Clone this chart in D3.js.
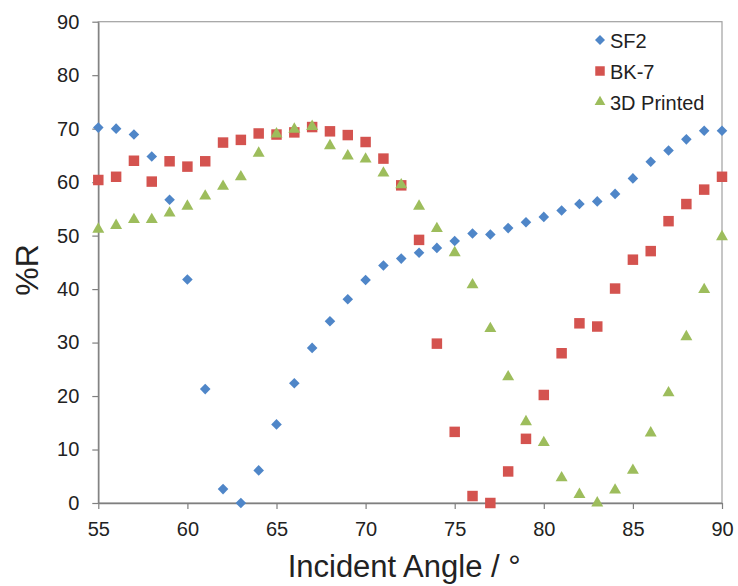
<!DOCTYPE html>
<html>
<head>
<meta charset="utf-8">
<script src="https://cdn.jsdelivr.net/npm/d3@7"></script>
<style>
  html, body { margin: 0; padding: 0; background: #fff; }
  svg { display: block; font-family: "Liberation Sans", Arial, sans-serif; }
</style>
</head>
<body>
<div id="chart"></div>
<script>
/* reflectance vs incident angle, three materials */
const angles = d3.range(55, 91);   // 55..90 in steps of 1
const sf2 = [70.2, 70.0, 68.9, 64.8, 56.7, 41.8, 21.3, 2.6, 0.0, 6.1, 14.7, 22.4, 29.0, 34.0, 38.1, 41.7, 44.4, 45.7,
             46.8, 47.7, 49.0, 50.4, 50.2, 51.4, 52.5, 53.5, 54.7, 55.9, 56.4, 57.8, 60.7, 63.8, 65.9, 68.0, 69.6, 69.6];
const bk7 = [60.4, 61.0, 64.0, 60.1, 63.9, 62.9, 63.9, 67.4, 67.9, 69.1, 68.9, 69.3, 70.3, 69.5, 68.8, 67.5, 64.4, 59.4,
             49.2, 29.8, 13.3, 1.3, 0.0, 5.9, 12.0, 20.2, 28.0, 33.6, 33.0, 40.1, 45.5, 47.1, 52.7, 55.9, 58.6, 61.0];
const printed = [51.2, 51.9, 53.0, 53.0, 54.2, 55.5, 57.4, 59.2, 61.0, 65.4, 69.0, 69.9, 70.4, 66.8, 64.9, 64.3, 61.7, 59.5,
                 55.5, 51.3, 46.8, 40.8, 32.6, 23.6, 15.2, 11.3, 4.7, 1.6, 0.0, 2.4, 6.1, 13.1, 20.6, 31.1, 39.9, 49.8];
const seriesNames = ['SF2', 'BK-7', '3D Printed'];
const xTicks = [55, 60, 65, 70, 75, 80, 85, 90];
const yTicks = [0, 10, 20, 30, 40, 50, 60, 70, 80, 90];

const W = 738, H = 586;
const m = { left: 98.3, right: 722, top: 21.7, bottom: 503 };

const svg = d3.select('#chart').append('svg').attr('width', W).attr('height', H);

const x = d3.scaleLinear().domain([55, 90]).range([m.left, m.right]);
const y = d3.scaleLinear().domain([0, 90]).range([m.bottom, m.top]);

// plot-area frame (top/right light grey)
svg.append('rect')
  .attr('x', m.left).attr('y', m.top)
  .attr('width', m.right - m.left).attr('height', m.bottom - m.top)
  .attr('fill', 'none').attr('stroke', '#a0a0a0').attr('stroke-width', 1.2);

const xAxis = svg.append('g').attr('transform', `translate(0,${m.bottom})`)
  .call(d3.axisBottom(x).tickValues(xTicks).tickSize(6).tickPadding(13).tickSizeOuter(0));
const yAxis = svg.append('g').attr('transform', `translate(${m.left},0)`)
  .call(d3.axisLeft(y).tickValues(yTicks).tickSize(6).tickPadding(13).tickSizeOuter(0));

[xAxis, yAxis].forEach(a => {
  a.select('.domain').attr('stroke', '#7f7f7f').attr('stroke-width', 1.4);
  a.selectAll('.tick line').attr('stroke', '#7f7f7f').attr('stroke-width', 1.2);
  a.selectAll('.tick text').attr('fill', '#222').style('font-size', '20px')
    .style('font-family', '"Liberation Sans", Arial, sans-serif');
});

// markers: diamond = square turned 45deg (excel style)
const colors = ['#4f86c8', '#d4534f', '#9dbd5c'];
const sym = [d3.symbolSquare, d3.symbolSquare, d3.symbolTriangle];
const rot = [45, 0, 0];
const symSize = [56, 110, 62];
const allSeries = [sf2, bk7, printed];

allSeries.forEach((vals, si) => {
  const shape = d3.symbol().type(sym[si]).size(symSize[si]);
  svg.append('g').selectAll('path')
    .data(angles.map((a, i) => ({ a, v: vals[i] })))
    .join('path')
      .attr('d', shape)
      .attr('transform', d => `translate(${x(d.a)},${y(d.v)}) rotate(${rot[si]})`)
      .attr('fill', colors[si]);
});

// legend
const lg = svg.append('g').attr('transform', 'translate(600,40)');
seriesNames.forEach((name, i) => {
  const row = lg.append('g').attr('transform', `translate(0,${i * 31})`);
  row.append('path').attr('d', d3.symbol().type(sym[i]).size(i === 1 ? 90 : 50)())
    .attr('transform', `rotate(${rot[i]})`)
    .attr('fill', colors[i]);
  row.append('text').attr('x', 10).attr('y', 7.5)
    .style('font-size', '20px').attr('fill', '#222').text(name);
});

// axis titles
svg.append('text')
  .attr('x', (m.left + m.right) / 2 - 6).attr('y', 577)
  .attr('text-anchor', 'middle').style('font-size', '31px').attr('fill', '#222')
  .text('Incident Angle / °');

svg.append('text')
  .attr('transform', 'translate(38,270) rotate(-90)')
  .attr('text-anchor', 'middle').style('font-size', '32px').attr('fill', '#222')
  .text('%R');
</script>
</body>
</html>
